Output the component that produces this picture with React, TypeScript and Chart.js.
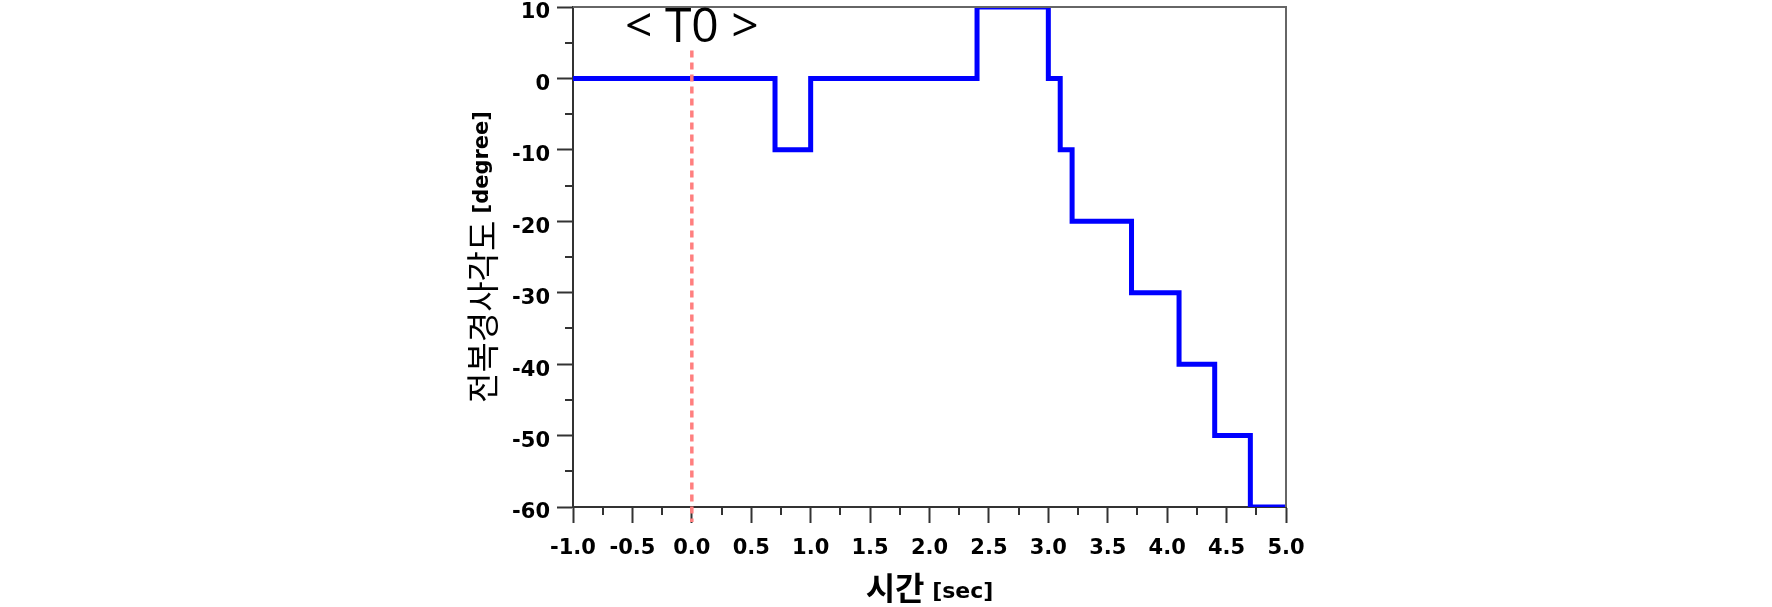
import React, { useEffect, useRef } from "react";
import { Chart, registerables } from "chart.js";

Chart.register(...registerables);

// ---- data ----
const timeSec = [-1.0, 0.7, 1.0, 2.4, 3.0, 3.1, 3.2, 3.7, 4.1, 4.4, 4.7, 5.0];
const angleDeg = [0, -10, 0, 10, 0, -10, -20, -30, -40, -50, -60, -60];
const xMajorTicks = [-1.0, -0.5, 0.0, 0.5, 1.0, 1.5, 2.0, 2.5, 3.0, 3.5, 4.0, 4.5, 5.0];
const yMajorTicks = [10, 0, -10, -20, -30, -40, -50, -60];
const t0Time = 0.0;
const t0TopValue = 3.9;
const t0Label = "< T0 >";
const xTitleMain = "시간";
const xTitleUnit = " [sec]";
const yTitleMain = "전복경사각도";
const yTitleUnit = " [degree]";

const AXIS_COLOR = "#333333";
const TICK_FONT = { family: "DejaVu Sans", weight: "bold" as const, size: 21 };

const decorPlugin = {
  id: "decor",
  afterDatasetsDraw(chart: any) {
    const { ctx, chartArea, scales } = chart;
    const xs = scales.x;
    const ys = scales.y;
    ctx.save();
    const x0 = xs.getPixelForValue(t0Time);
    ctx.strokeStyle = "#FF7F7F";
    ctx.lineWidth = 3.5;
    ctx.setLineDash([7, 5]);
    ctx.beginPath();
    ctx.moveTo(x0, ys.getPixelForValue(t0TopValue));
    ctx.lineTo(x0, chartArea.bottom + 15);
    ctx.stroke();
    ctx.setLineDash([]);
    ctx.restore();
  },
  afterDraw(chart: any) {
    const { ctx, chartArea, scales } = chart;
    const xs = scales.x;
    const ys = scales.y;
    ctx.save();
    // top/right frame
    ctx.strokeStyle = "#666666";
    ctx.lineWidth = 2;
    ctx.beginPath();
    ctx.moveTo(chartArea.left, chartArea.top);
    ctx.lineTo(chartArea.right, chartArea.top);
    ctx.lineTo(chartArea.right, chartArea.bottom);
    ctx.stroke();

    // minor ticks
    ctx.strokeStyle = AXIS_COLOR;
    ctx.lineWidth = 2;
    ctx.beginPath();
    for (let i = 0; i < yMajorTicks.length - 1; i++) {
      const v = (yMajorTicks[i] + yMajorTicks[i + 1]) / 2;
      const py = Math.round(ys.getPixelForValue(v));
      ctx.moveTo(chartArea.left - 8, py);
      ctx.lineTo(chartArea.left, py);
    }
    for (let i = 0; i < xMajorTicks.length - 1; i++) {
      const v = (xMajorTicks[i] + xMajorTicks[i + 1]) / 2;
      const px = Math.round(xs.getPixelForValue(v));
      ctx.moveTo(px, chartArea.bottom);
      ctx.lineTo(px, chartArea.bottom + 8);
    }
    ctx.stroke();

    // T0 label
    ctx.fillStyle = "#000";
    ctx.font = '48px "Open Sans"';
    ctx.textAlign = "center";
    ctx.textBaseline = "alphabetic";
    ctx.fillText(t0Label, xs.getPixelForValue(t0Time), chartArea.top + 35);

    // X title
    ctx.textAlign = "left";
    const kFontX = 'bold 32px "Noto Sans CJK KR"';
    const uFontX = 'bold 22px "DejaVu Sans"';
    ctx.font = kFontX;
    const w1 = ctx.measureText(xTitleMain).width;
    ctx.font = uFontX;
    const w2 = ctx.measureText(xTitleUnit).width;
    const cx = (chartArea.left + chartArea.right) / 2;
    const sx = cx - (w1 + w2) / 2;
    ctx.font = kFontX;
    ctx.fillText(xTitleMain, sx, chartArea.bottom + 93);
    ctx.font = uFontX;
    ctx.fillText(xTitleUnit, sx + w1, chartArea.bottom + 91);

    // Y title (rotated)
    const kFontY = '33px "Noto Sans CJK KR"';
    const uFontY = 'bold 21px "DejaVu Sans"';
    ctx.font = kFontY;
    const h1 = ctx.measureText(yTitleMain).width;
    ctx.font = uFontY;
    const h2 = ctx.measureText(yTitleUnit).width;
    const cy = (chartArea.top + chartArea.bottom) / 2;
    ctx.translate(0, cy);
    ctx.rotate(-Math.PI / 2);
    const start = -(h1 + h2) / 2;
    ctx.font = kFontY;
    ctx.fillText(yTitleMain, start, chartArea.left - 78);
    ctx.font = uFontY;
    ctx.fillText(yTitleUnit, start + h1, chartArea.left - 85);
    ctx.restore();
  },
};

export default function App() {
  const canvasRef = useRef<HTMLCanvasElement | null>(null);

  useEffect(() => {
    if (!canvasRef.current) return;
    const chart = new Chart(canvasRef.current, {
      type: "line",
      data: {
        datasets: [
          {
            data: timeSec.map((t, i) => ({ x: t, y: angleDeg[i] })),
            borderColor: "#0000FF",
            borderWidth: 5,
            stepped: "before",
            pointRadius: 0,
            fill: false,
            clip: 0,
          } as any,
        ],
      },
      options: {
        responsive: true,
        maintainAspectRatio: false,
        animation: false,
        layout: { padding: { top: 7, right: 486, left: 0, bottom: 0 } },
        plugins: { legend: { display: false }, tooltip: { enabled: false } },
        scales: {
          x: {
            type: "linear",
            min: -1,
            max: 5,
            afterFit: (s: any) => {
              s.height = 100;
              s.paddingLeft = 0;
              s.paddingRight = 0;
            },
            afterBuildTicks: (s: any) => {
              s.ticks = xMajorTicks.map((v) => ({ value: v }));
            },
            ticks: {
              autoSkip: false,
              maxRotation: 0,
              padding: 13,
              color: "#000",
              font: TICK_FONT,
              callback: (v: any) => Number(v).toFixed(1),
            },
            grid: {
              display: true,
              drawOnChartArea: false,
              drawTicks: true,
              tickLength: 16,
              tickWidth: 2,
              tickColor: AXIS_COLOR,
            },
            border: { display: true, color: AXIS_COLOR, width: 2 },
          },
          y: {
            type: "linear",
            min: -60,
            max: 10,
            afterFit: (s: any) => {
              s.width = 573;
              s.paddingTop = 0;
              s.paddingBottom = 0;
            },
            afterBuildTicks: (s: any) => {
              s.ticks = yMajorTicks.map((v) => ({ value: v }));
            },
            ticks: {
              autoSkip: false,
              padding: 7,
              labelOffset: 6,
              color: "#000",
              font: TICK_FONT,
              callback: (v: any) => String(v),
            },
            grid: {
              display: true,
              drawOnChartArea: false,
              drawTicks: true,
              tickLength: 16,
              tickWidth: 2,
              tickColor: AXIS_COLOR,
            },
            border: { display: true, color: AXIS_COLOR, width: 2 },
          },
        },
      },
      plugins: [decorPlugin],
    });
    return () => chart.destroy();
  }, []);

  return (
    <div style={{ position: "absolute", left: 0, top: 0, width: 1772, height: 607, background: "#fff" }}>
      <canvas ref={canvasRef} />
    </div>
  );
}
